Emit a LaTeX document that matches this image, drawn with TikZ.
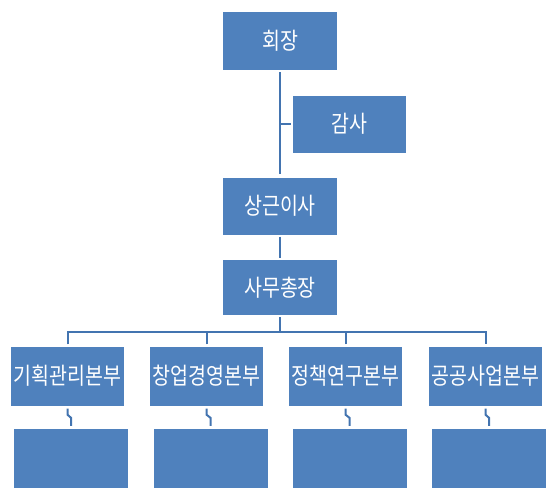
\documentclass[tikz,border=0pt]{standalone}
\usepackage{graphicx}
\usepackage{fontspec}
\setmainfont{Noto Sans CJK KR}
\usetikzlibrary{calc}
\definecolor{boxblue}{HTML}{4F81BD}
\definecolor{lineblue}{HTML}{4374B0}
\newcommand{\tallt}[1]{\scalebox{1}[1.2]{#1}}
\tikzset{
  orgbox/.style={fill=boxblue, draw=none, text=white, inner sep=0pt,
    font=\fontsize{19.5}{22}\selectfont},
  wide/.style={orgbox, minimum width=114pt, minimum height=58pt},
  mid/.style={orgbox, minimum width=113pt, minimum height=57pt},
  conn/.style={lineblue, line width=2pt}
}
\begin{document}
\begin{tikzpicture}[x=1pt,y=-1pt]
\useasboundingbox (0,0) rectangle (554,498);
\node[wide] (chair) at (280,41) {\tallt{회장}};
\node[mid] (audit) at (349.5,124) {\tallt{감사}};
\node[mid, minimum width=114pt] (exec) at (280,206) {\tallt{상근이사}};
\node[mid, minimum width=114pt, minimum height=55pt] (sec) at (280,287.5) {\tallt{사무총장}};
\node[mid, minimum height=59pt] (r1) at (67.5,376) {\tallt{기획관리본부}};
\node[mid, minimum height=59pt] (r2) at (206.5,376) {\tallt{창업경영본부}};
\node[mid, minimum height=59pt] (r3) at (345.5,376) {\tallt{정책연구본부}};
\node[mid, minimum height=59pt] (r4) at (485.5,376) {\tallt{공공사업본부}};
\node[wide, minimum height=59pt] (b1) at (71,458.5) {};
\node[wide, minimum height=59pt] (b2) at (210.5,458.5) {};
\node[wide, minimum height=59pt] (b3) at (349.5,458.5) {};
\node[wide, minimum height=59pt] (b4) at (489,458.5) {};
\coordinate (tap) at (280,124);
\coordinate (bus) at (280,332);
\draw[conn] ([yshift=-2pt]chair.south) -- ([yshift=3pt]exec.north);
\draw[conn] (tap) -- ([xshift=-2pt]audit.west);
\draw[conn] ([yshift=-2pt]exec.south) -- ([yshift=2pt]sec.north);
\draw[conn] ([yshift=-2pt]sec.south) -- (bus);
\draw[conn] ([yshift=2pt]r1.north) |- (bus) -| ([yshift=2pt]r4.north);
\draw[conn] ([yshift=2pt]r2.north) -- (r2.north |- bus);
\draw[conn] ([yshift=2pt]r3.north) -- (r3.north |- bus);
\foreach \i in {1,2,3,4}{
  \draw[conn] ([yshift=-3pt]r\i.south) -- ++(0,6) -- ($(b\i.north)+(0,-11)$) -- ([yshift=3pt]b\i.north);
}
\end{tikzpicture}
\end{document}
